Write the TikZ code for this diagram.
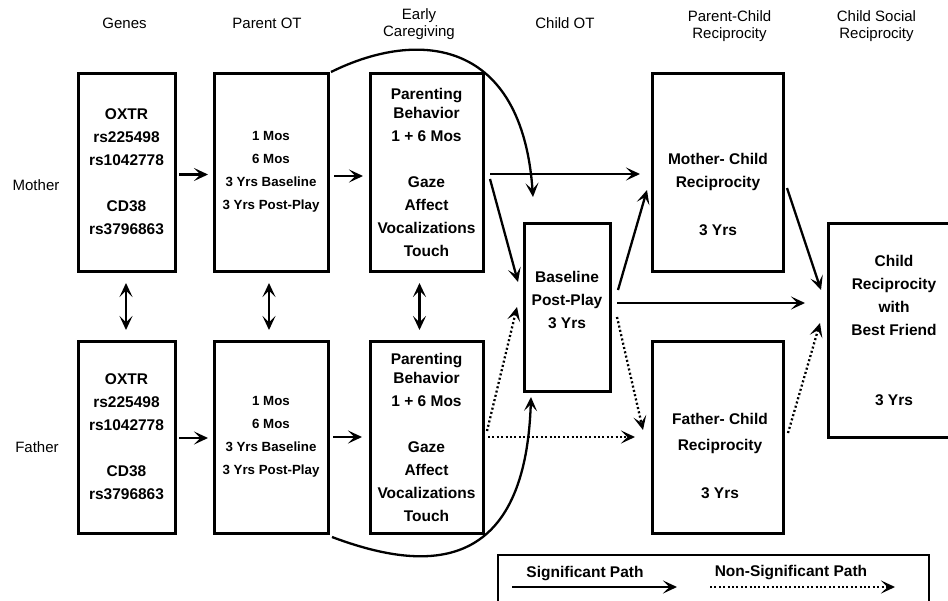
\documentclass[tikz,border=0pt]{standalone}
\usepackage{fontspec}
\setmainfont{Liberation Sans}
\usetikzlibrary{arrows.meta}

\begin{document}
\begin{tikzpicture}[x=1pt, y=-1pt,
        box/.style={draw, line width=3pt, outer sep=0pt, inner sep=0pt, align=center,
                    font=\bfseries\fontsize{15.5}{23}\selectfont},
        txt/.style={inner sep=0pt, align=center, font=\bfseries\fontsize{15.5}{23}\selectfont},
        small/.style={font=\bfseries\fontsize{13.3}{23}\selectfont},
        head/.style={inner sep=0pt, align=center, font=\fontsize{15}{16.6}\selectfont},
        sig/.style={line width=2.3pt, -{Stealth[length=14pt,width=13pt,inset=6.5pt]}},
        nonsig/.style={sig, dash pattern=on 2pt off 2.4pt},
        dbl/.style={line width=2.3pt, {Stealth[length=14pt,width=13pt,inset=6.5pt]}-{Stealth[length=14pt,width=13pt,inset=6.5pt]}}]
        \useasboundingbox (0,0) rectangle (948,600);

        % column heads
        \node[head] (hgenes) at (124.5,23) {Genes};
        \node[head] (hpot) at (267,23) {Parent OT};
        \node[head] (hcare) at (419,24) {Early\\Caregiving};
        \node[head] (hcot) at (565,23) {Child OT};
        \node[head] (hpcr) at (729.5,26) {Parent-Child\\Reciprocity};
        \node[head] (hcsr) at (876.5,26) {Child Social\\Reciprocity};

        \node[head] (lmother) at (36,185) {Mother};
        \node[head] (lfather) at (37,447) {Father};

        % mother row
        \node[box, minimum width=97, minimum height=198] (mgenes) at (126.5,172)
            {OXTR\\rs225498\\rs1042778\\[23pt]CD38\\rs3796863};
        \node[box, small, minimum width=114, minimum height=198] (mpot) at (271,172)
            {1 Mos\\6 Mos\\3 Yrs Baseline\\3 Yrs Post-Play};
        \node[box, minimum width=113, minimum height=198] (mcare) at (426.5,172)
            {Parenting\\[-4pt]Behavior\\1 + 6 Mos\\[23pt]Gaze\\Affect\\Vocalizations\\Touch};

        % father row
        \node[box, minimum width=97, minimum height=192] (fgenes) at (126.5,437)
            {OXTR\\rs225498\\rs1042778\\[23pt]CD38\\rs3796863};
        \node[box, small, minimum width=114, minimum height=192] (fpot) at (271,437)
            {1 Mos\\6 Mos\\3 Yrs Baseline\\3 Yrs Post-Play};
        \node[box, minimum width=113, minimum height=192] (fcare) at (426.5,437)
            {Parenting\\[-4pt]Behavior\\1 + 6 Mos\\[23pt]Gaze\\Affect\\Vocalizations\\Touch};

        % child side
        \node[box, minimum width=86, minimum height=168] (cot) at (567,307) {};
        \node[txt] (cottxt) at (567,300) {Baseline\\Post-Play\\3 Yrs};
        \node[box, minimum width=131, minimum height=198] (mc) at (717.5,172) {};
        \node[txt] (mctxt) at (718,194.5) {Mother- Child\\Reciprocity\\[25pt]3 Yrs};
        \node[box, minimum width=131, minimum height=192] (fc) at (717.5,437) {};
        \node[txt] (fctxt) at (720,456) {Father- Child\\[3pt]Reciprocity\\[25pt]3 Yrs};
        \node[box, minimum width=132, minimum height=214] (cr) at (894,330)
            {Child\\Reciprocity\\with\\Best Friend\\[47pt]3 Yrs};

        % paths
        \draw[sig, shorten <=4pt, shorten >=6pt] ([yshift=-2.5pt]mgenes.east) -- ([yshift=-2.5pt]mpot.west);
        \draw[sig, shorten <=6pt, shorten >=7pt] ([yshift=-4pt]mpot.east) -- ([yshift=-4pt]mcare.west);
        \draw[sig, shorten <=4pt, shorten >=6pt] ([yshift=-1pt]fgenes.east) -- ([yshift=-1pt]fpot.west);
        \draw[sig, shorten <=5pt, shorten >=8pt] (fpot.east) -- (fcare.west);

        \draw[dbl, shorten <=12pt, shorten >=11pt] ([xshift=-0.5pt]mgenes.south) -- ([xshift=-0.5pt]fgenes.north);
        \draw[dbl, shorten <=12pt, shorten >=11pt] ([xshift=-2pt]mpot.south) -- ([xshift=-2pt]fpot.north);
        \draw[dbl, shorten <=12pt, shorten >=11pt] ([xshift=-7pt]mcare.south) -- ([xshift=-7pt]fcare.north);

        \draw[sig, shorten <=7pt, shorten >=12pt] ([yshift=-2pt]mcare.east) -- ([yshift=-2pt]mc.west);
        \draw[sig] ([xshift=7pt,yshift=-7pt]mcare.east) -- ([xshift=-6pt,yshift=25pt]cot.west);
        \draw[sig] ([xshift=3pt,yshift=1pt]mpot.north east) .. controls (420,28) and (522,40) .. ([xshift=9pt,yshift=26pt]cot.north west);
        \draw[sig] ([xshift=4pt,yshift=-4pt]fpot.south east) .. controls (420,570) and (525,580) .. ([xshift=7pt,yshift=-6pt]cot.south west);

        \draw[sig] ([xshift=8pt,yshift=17pt]cot.east) -- ([xshift=-5pt,yshift=-18pt]mc.west);
        \draw[sig] ([xshift=7pt,yshift=4pt]cot.east) -- ([xshift=-23pt,yshift=27pt]cr.west);
        \draw[sig] ([xshift=4pt,yshift=-16pt]mc.east) -- ([xshift=-7pt,yshift=40pt]cr.west);

        \draw[nonsig] ([xshift=4pt,yshift=6pt]fcare.east) -- ([xshift=-7pt]cot.west);
        \draw[nonsig, shorten <=5pt, shorten >=17pt] (fcare.east) -- (fc.west);
        \draw[nonsig] ([xshift=7pt,yshift=-10pt]cot.east) -- ([xshift=-9pt,yshift=7pt]fc.west);
        \draw[nonsig] ([xshift=5pt,yshift=4pt]fc.east) -- ([xshift=-8pt,yshift=7pt]cr.west);

        % legend
        \node[draw, line width=1.6pt, minimum width=431, minimum height=70, inner sep=0pt] (legend) at (713.5,590) {};
        \node[txt] (lsig) at (585,574) {Significant Path};
        \node[txt] (lnon) at (791,573) {Non-Significant Path};
        \coordinate (sigA) at (512,587);
        \coordinate (sigB) at (677,587);
        \coordinate (nonA) at (710,587);
        \coordinate (nonB) at (895,587);
        \draw[sig] (sigA) -- (sigB);
        \draw[nonsig] (nonA) -- (nonB);
    \end{tikzpicture}
\end{document}
